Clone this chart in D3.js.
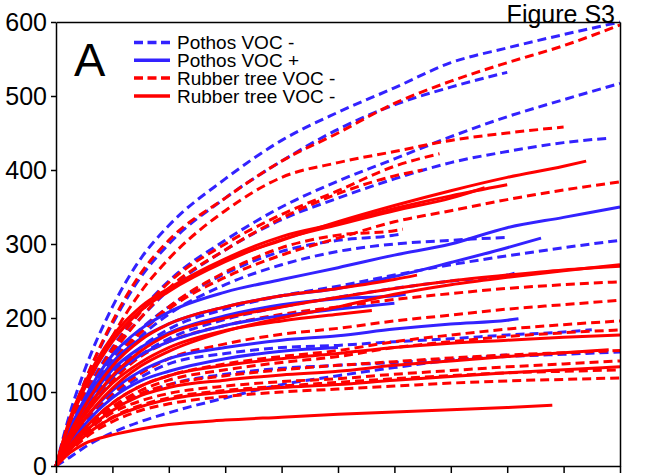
<!DOCTYPE html>
<html>
<head>
<meta charset="utf-8">
<script src="https://cdn.jsdelivr.net/npm/d3@7"></script>
<style>
  body { margin: 0; background: #fff; }
  svg { display: block; font-family: "Liberation Sans", Arial, sans-serif; }
</style>
</head>
<body>
<div id="chart"></div>
<script>
// sample times (x) shared by every curve; the last value of a curve sits at its own end time
const xGrid = [0, 0.25, 0.5, 1, 1.5, 2, 3, 4, 5, 6, 7, 8, 9, 10]
const yTicks = [0, 100, 200, 300, 400, 500, 600]
const legendLabels = ["Pothos VOC -", "Pothos VOC +", "Rubber tree VOC -", "Rubber tree VOC -"]

// Pothos VOC - (blue dashed)
const pothosMinus = [
  {end: 10,   v: [0,72,128,215,280,325,388,440,478,511,545,565,583,600]},
  {end: 8,    v: [0,62,112,192,255,300,362,412,455,488,512,532]},
  {end: 10,   v: [0,52,95,160,210,250,305,350,385,415,445,472,495,517]},
  {end: 9.8,  v: [0,50,90,155,200,238,292,333,362,388,410,425,437,443]},
  {end: 6.15, v: [0,45,85,145,185,215,260,290,305,312,314]},
  {end: 8,    v: [0,42,80,135,175,205,245,272,290,300,305,309]},
  {end: 10,   v: [0,40,75,125,160,185,212,230,243,258,272,284,295,305]},
  {end: 8.2,  v: [0,38,70,118,150,172,198,215,228,240,250,258,262]},
  {end: 9.5,  v: [0,30,55,95,120,138,152,160,163,168,172,177,181,184]},
  {end: 10,   v: [0,22,42,75,96,110,124,132,136,140,144,148,151,154]},
  {end: 8,    v: [0,12,25,45,60,72,92,110,122,133,143,150]}
]

// Pothos VOC + (blue solid)
const pothosPlus = [
  {end: 10,  v: [0,50,90,150,185,208,235,252,268,285,300,322,336,350]},
  {end: 8.6, v: [0,48,85,140,172,192,215,230,240,256,275,295,308]},
  {end: 8.2, v: [0,35,62,102,128,145,160,170,176,185,192,197,199]},
  {end: 6.2, v: [0,42,78,130,160,180,203,218,226,230,232]},
  {end: 6,   v: [0,40,72,120,150,168,190,203,212,220]},
  {end: 5,   v: [0,30,55,92,115,128,145,155,160]}
]

// Rubber tree VOC - (red dashed)
const rubberDashed = [
  {end: 10,   v: [0,62,112,195,260,305,362,412,450,490,520,545,568,596]},
  {end: 9,    v: [0,55,100,175,235,280,345,390,410,425,440,450,458]},
  {end: 6.8,  v: [0,50,92,158,208,248,300,340,372,405,422]},
  {end: 6.5,  v: [0,48,88,152,200,240,292,335,368,392,400]},
  {end: 10,   v: [0,44,80,138,180,212,255,285,308,330,345,360,373,384]},
  {end: 6.15, v: [0,45,82,140,182,215,262,295,312,318,320]},
  {end: 10,   v: [0,38,68,115,148,168,190,205,215,225,233,240,245,249]},
  {end: 10,   v: [0,32,58,98,125,145,165,178,186,196,204,212,218,224]},
  {end: 10,   v: [0,28,50,85,108,122,138,148,156,168,177,185,191,196]},
  {end: 10,   v: [0,26,48,80,102,116,130,140,148,160,168,175,180,184]},
  {end: 10,   v: [0,26,47,78,98,110,122,130,136,141,146,150,153,156]},
  {end: 10,   v: [0,24,44,72,88,98,108,114,118,124,129,134,138,142]},
  {end: 10,   v: [0,22,40,66,82,92,102,108,113,118,122,126,128,130]},
  {end: 10,   v: [0,20,37,60,75,84,94,100,104,108,112,115,117,119]}
]

// Rubber tree VOC - (red solid, as labelled in the figure)
const rubberSolid = [
  {end: 9.4, v: [0,62,105,170,210,238,278,305,330,352,372,390,405,412]},
  {end: 8,   v: [0,65,110,175,215,240,280,310,328,348,365,380]},
  {end: 7.6, v: [0,60,104,168,210,236,276,306,326,345,362,376]},
  {end: 6.4, v: [0,45,80,135,170,192,215,230,240,252,258]},
  {end: 10,  v: [0,35,62,105,135,155,182,200,215,232,245,255,264,272]},
  {end: 10,  v: [0,40,72,122,155,178,200,215,228,240,250,258,265,270]},
  {end: 10,  v: [0,28,50,85,108,122,136,145,152,160,166,170,174,177]},
  {end: 9.8, v: [0,25,45,75,95,106,116,123,128,136,142,148,153,157]},
  {end: 10,  v: [0,22,40,65,80,90,100,106,110,116,121,126,130,134]},
  {end: 5.6, v: [0,38,68,112,140,160,183,196,205,210]},
  {end: 8.8, v: [0,18,30,42,50,56,62,66,70,73,76,79,82]}
]

const width = 658
const height = 475
const margin = {top: 22, right: 38, bottom: 9, left: 56}
const blue = "#3322ff"
const red = "#ff0000"

const svg = d3.select("#chart")
    .append("svg")
    .attr("width", width)
    .attr("height", height)

const x = d3.scaleLinear().domain([0, 10]).range([margin.left, width - margin.right])
const y = d3.scaleLinear().domain([0, 600]).range([height - margin.bottom, margin.top])

const toPoints = d => d.v.map((val, i) => [i < d.v.length - 1 ? xGrid[i] : d.end, val])

const line = d3.line()
    .x(p => x(p[0]))
    .y(p => y(p[1]))
    .curve(d3.curveMonotoneX)

const groups = [
  {data: pothosMinus, color: blue, dash: "9,5"},
  {data: rubberDashed, color: red, dash: "9,5"},
  {data: pothosPlus, color: blue, dash: null},
  {data: rubberSolid, color: red, dash: null}
]

const layer_lines = svg.append("g")
groups.forEach(g => {
  layer_lines.append("g")
    .selectAll("path")
    .data(g.data)
    .enter()
    .append("path")
    .attr("fill", "none")
    .attr("stroke", g.color)
    .attr("stroke-width", 3)
    .attr("stroke-dasharray", g.dash)
    .attr("stroke-linejoin", "round")
    .attr("d", d => line(toPoints(d)))
})

// axes + frame
const axisLeft = svg.append("g")
    .attr("transform", `translate(${margin.left},0)`)
    .call(d3.axisLeft(y).tickValues(yTicks).tickSize(5).tickSizeOuter(0).tickPadding(4))
axisLeft.selectAll("text").style("font-size", "25px").attr("fill", "#000")

const axisBottom = svg.append("g")
    .attr("transform", `translate(0,${height - margin.bottom})`)
    .call(d3.axisBottom(x).ticks(10).tickSize(7).tickSizeOuter(0).tickFormat(""))

svg.append("g")
    .attr("transform", `translate(0,${margin.top})`)
    .call(d3.axisTop(x).tickValues([]).tickSizeOuter(0))
svg.append("g")
    .attr("transform", `translate(${width - margin.right},0)`)
    .call(d3.axisRight(y).tickValues([]).tickSizeOuter(0))

svg.selectAll(".domain, .tick line").attr("stroke", "#000").attr("stroke-width", 1.5)

// labels
svg.append("text")
    .attr("x", 74)
    .attr("y", 76)
    .style("font-size", "47px")
    .text("A")

svg.append("text")
    .attr("x", 615)
    .attr("y", 23)
    .attr("text-anchor", "end")
    .style("font-size", "25px")
    .text("Figure S3")

// legend
const legendStyles = [
  {color: blue, dash: "9,4.5"},
  {color: blue, dash: null},
  {color: red, dash: "9,4.5"},
  {color: red, dash: null}
]
const legend = svg.append("g")
legendLabels.forEach((label, i) => {
  const ly = 42.5 + i * 17.8
  legend.append("line")
    .attr("x1", 134).attr("x2", 170)
    .attr("y1", ly).attr("y2", ly)
    .attr("stroke", legendStyles[i].color)
    .attr("stroke-width", 3.5)
    .attr("stroke-dasharray", legendStyles[i].dash)
  legend.append("text")
    .attr("x", 177)
    .attr("y", ly)
    .attr("dy", "0.35em")
    .style("font-size", "19px")
    .text(label)
})
</script>
</body>
</html>
